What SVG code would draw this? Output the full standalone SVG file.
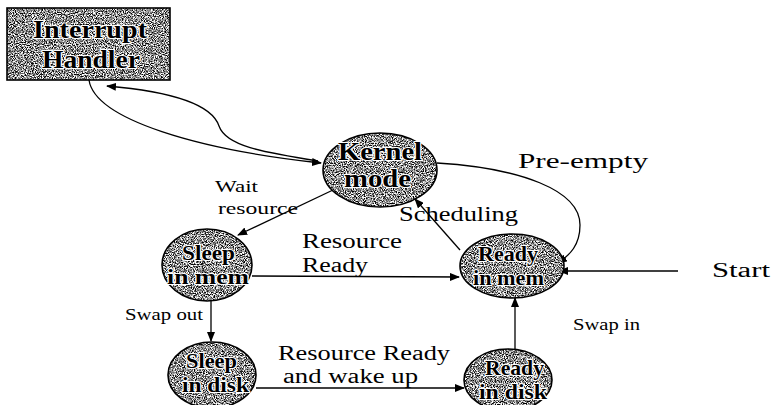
<svg xmlns="http://www.w3.org/2000/svg" width="774" height="405" viewBox="0 0 774 405">
<style>
.grain{fill:#888;filter:url(#grain);}
.edge{fill:none;stroke:#000;stroke-width:1.6;}
.nt{font-weight:bold;font-size:21px;fill:#000;stroke:#fff;stroke-width:2.2px;paint-order:stroke;stroke-linejoin:round;}
.big{font-size:25px;}
.lb{font-size:20px;fill:#000;}
.sm{font-size:17px;}
.cn{fill:none;stroke:#000;stroke-width:1.3;}
</style>
<defs>
<filter id="grain" color-interpolation-filters="sRGB">
<feTurbulence type="fractalNoise" baseFrequency="0.9" numOctaves="2" seed="7" result="n"/>
<feColorMatrix in="n" type="matrix" values="3 0 0 0 -0.95  3 0 0 0 -0.95  3 0 0 0 -0.95  0 0 0 0 1" result="g"/>
<feComposite in="g" in2="SourceGraphic" operator="in"/>
</filter>
<marker id="ah" markerUnits="userSpaceOnUse" markerWidth="10" markerHeight="8" refX="9" refY="4" orient="auto">
<path d="M0,0 L10,4 L0,8 Z" fill="#000"/>
</marker>
</defs>
<rect width="774" height="405" fill="#fff"/>

<g id="connectors">
<path class="cn" d="M89,80 C95,120 200,150 321,163" marker-end="url(#ah)"/>
<path class="cn" d="M318,161 C262,152 226,146 219,126 C211,102 165,91 107,86" marker-end="url(#ah)"/>
<path class="cn" d="M333,190 L238,235" marker-end="url(#ah)"/>
<path class="cn" d="M460,250 L415,199" marker-end="url(#ah)"/>
<path class="cn" d="M437,163 C520,168 580,190 580,225 C580,245 570,255 558,263" marker-end="url(#ah)"/>
<path class="cn" d="M678,271 L559,271" marker-end="url(#ah)"/>
<path class="cn" d="M252,276 L459,277" marker-end="url(#ah)"/>
<path class="cn" d="M211,301 L211,341" marker-end="url(#ah)"/>
<path class="cn" d="M256,388 L464,388" marker-end="url(#ah)"/>
<path class="cn" d="M515,349 L515,298" marker-end="url(#ah)"/>
</g>

<g font-family="'Liberation Serif', 'DejaVu Serif', serif">
<g id="interrupt-handler">
<rect class="grain" x="7" y="8" width="163" height="72"/>
<rect class="edge" x="7" y="8" width="163" height="72"/>
<text class="nt big" x="33" y="38" textLength="114" lengthAdjust="spacingAndGlyphs">Interrupt</text>
<text class="nt big" x="42" y="68" textLength="98" lengthAdjust="spacingAndGlyphs">Handler</text>
</g>

<g id="kernel-mode">
<ellipse class="grain" cx="380" cy="170" rx="57" ry="37"/>
<ellipse class="edge" cx="380" cy="170" rx="57" ry="37"/>
<text class="nt big" x="338" y="160" textLength="84" lengthAdjust="spacingAndGlyphs">Kernel</text>
<text class="nt big" x="344" y="187" textLength="67" lengthAdjust="spacingAndGlyphs">mode</text>
</g>

<g id="sleep-in-mem">
<ellipse class="grain" cx="207" cy="265" rx="45" ry="36"/>
<ellipse class="edge" cx="207" cy="265" rx="45" ry="36"/>
<text class="nt" x="182" y="260" textLength="53" lengthAdjust="spacingAndGlyphs">Sleep</text>
<text class="nt" x="167" y="284" textLength="82" lengthAdjust="spacingAndGlyphs">in mem</text>
</g>

<g id="ready-in-mem">
<ellipse class="grain" cx="512" cy="266" rx="52" ry="32"/>
<ellipse class="edge" cx="512" cy="266" rx="52" ry="32"/>
<text class="nt" x="478" y="261" textLength="60" lengthAdjust="spacingAndGlyphs">Ready</text>
<text class="nt" x="473" y="285" textLength="71" lengthAdjust="spacingAndGlyphs">in mem</text>
</g>

<g id="sleep-in-disk">
<ellipse class="grain" cx="212" cy="375" rx="44" ry="33"/>
<ellipse class="edge" cx="212" cy="375" rx="44" ry="33"/>
<text class="nt" x="186" y="368" textLength="51" lengthAdjust="spacingAndGlyphs">Sleep</text>
<text class="nt" x="182" y="392" textLength="67" lengthAdjust="spacingAndGlyphs">in disk</text>
</g>

<g id="ready-in-disk">
<ellipse class="grain" cx="508" cy="380" rx="44" ry="31"/>
<ellipse class="edge" cx="508" cy="380" rx="44" ry="31"/>
<text class="nt" x="485" y="375" textLength="59" lengthAdjust="spacingAndGlyphs">Ready</text>
<text class="nt" x="479" y="399" textLength="68" lengthAdjust="spacingAndGlyphs">in disk</text>
</g>

<g id="labels">
<text class="lb sm" x="215" y="192" textLength="43" lengthAdjust="spacingAndGlyphs">Wait</text>
<text class="lb sm" x="218" y="214" textLength="80" lengthAdjust="spacingAndGlyphs">resource</text>
<text class="lb" x="518" y="168" font-size="22" textLength="130" lengthAdjust="spacingAndGlyphs">Pre-empty</text>
<text class="lb" x="399" y="221" font-size="19" textLength="119" lengthAdjust="spacingAndGlyphs">Scheduling</text>
<text class="lb" x="302" y="248" textLength="100" lengthAdjust="spacingAndGlyphs">Resource</text>
<text class="lb" x="302" y="272" textLength="66" lengthAdjust="spacingAndGlyphs">Ready</text>
<text class="lb" x="712" y="277" font-size="22" textLength="58" lengthAdjust="spacingAndGlyphs">Start</text>
<text class="lb sm" x="125" y="320" textLength="78" lengthAdjust="spacingAndGlyphs">Swap out</text>
<text class="lb sm" x="573" y="330" textLength="67" lengthAdjust="spacingAndGlyphs">Swap in</text>
<text class="lb" x="278" y="360" textLength="172" lengthAdjust="spacingAndGlyphs">Resource Ready</text>
<text class="lb" x="283" y="383" textLength="135" lengthAdjust="spacingAndGlyphs">and wake up</text>
</g>
</g>
</svg>
